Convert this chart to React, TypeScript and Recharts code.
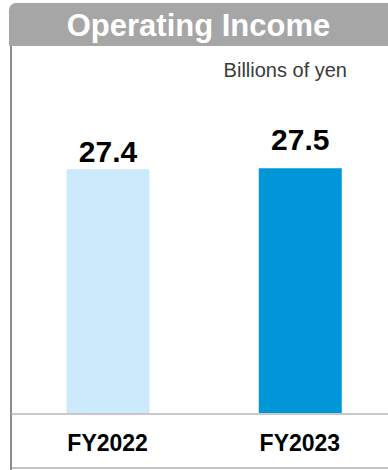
import { BarChart, Bar, XAxis, YAxis, Cell, LabelList } from "recharts";

const years = ["FY2022", "FY2023"];
const operatingIncome = [27.4, 27.5];
const barColors = ["#cdeafc", "#0096d8"];

const data = years.map((year, i) => ({ year, value: operatingIncome[i] }));

// the second label sits higher in the source slide
const labelLift = [7, 18];

const font = "'Liberation Sans', Arial, sans-serif";

function ValueLabel(props: any) {
  const { x, y, width, value, index } = props;
  return (
    <text
      x={x + width / 2}
      y={y - labelLift[index]}
      textAnchor="middle"
      fontFamily={font}
      fontWeight="bold"
      fontSize={30}
      fill="#000"
    >
      {value.toFixed(1)}
    </text>
  );
}

export default function App() {
  return (
    <div style={{ position: "absolute", left: 0, top: 0, width: 388, height: 470, overflow: "hidden", background: "#fff", fontFamily: font }}>
      <div
        style={{
          position: "absolute",
          left: 9,
          top: 3,
          width: 379,
          height: 43,
          background: "#a6a6a6",
          borderTopLeftRadius: 7,
          color: "#fff",
          fontWeight: "bold",
          fontSize: 31,
          lineHeight: "45px",
          textAlign: "center",
        }}
      >
        Operating Income
      </div>
      <div style={{ position: "absolute", left: 10, top: 46, width: 2, height: 424, background: "#8c8c8c" }} />
      <div style={{ position: "absolute", left: 12, top: 467, width: 376, height: 2, background: "#c4c4c4" }} />
      <div style={{ position: "absolute", right: 41, top: 58, fontSize: 20, color: "#3a3a3a", lineHeight: "24px" }}>
        Billions of yen
      </div>
      <div style={{ position: "absolute", left: 0, top: 0 }}>
        <BarChart width={396} height={470} data={data} margin={{ top: 146, right: 0, bottom: 0, left: 11.5 }}>
          <YAxis hide domain={[0, 30]} />
          <XAxis
            dataKey="year"
            height={56}
            axisLine={{ stroke: "#c8c8c8", strokeWidth: 2 }}
            tickLine={false}
            tickMargin={15}
            tick={{ fill: "#000", fontSize: 23, fontWeight: "bold", fontFamily: font }}
          />
          <Bar dataKey="value" barSize={83} isAnimationActive={false}>
            {data.map((d, i) => (
              <Cell key={d.year} fill={barColors[i]} />
            ))}
            <LabelList dataKey="value" content={ValueLabel} />
          </Bar>
        </BarChart>
      </div>
    </div>
  );
}
